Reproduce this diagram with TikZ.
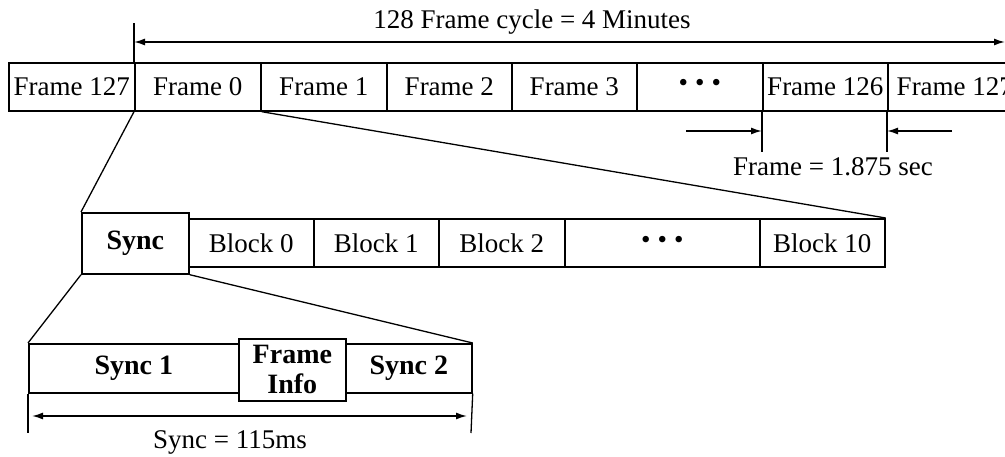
\documentclass[tikz,border=0pt]{standalone}
\usepackage{fontspec}
\setmainfont{Liberation Serif}
\usetikzlibrary{arrows.meta}
\begin{document}
\begin{tikzpicture}[x=1pt,y=-1pt,line width=1.7pt,
  every node/.style={font=\fontsize{27}{30}\selectfont,inner sep=0pt},
  cell/.style={draw,rectangle,anchor=north west,fill=white,line width=1.7pt},
  bcell/.style={cell,font=\fontsize{28}{30}\selectfont\bfseries},
  dimarr/.style={{Latex[length=11pt,width=7pt]}-{Latex[length=11pt,width=7pt]},line width=1.5pt},
  onearr/.style={-{Latex[length=11pt,width=7pt]},line width=1.5pt},
  thin/.style={line width=1.3pt},
  lbl/.style={anchor=center}]
\useasboundingbox (0,0) rectangle (1005,457);
% top row of frames
\node[cell,minimum width=126pt,minimum height=48pt] (f127a) at (8,62) {Frame 127};
\node[cell,minimum width=126pt,minimum height=48pt] (f0) at (134,62) {Frame 0};
\node[cell,minimum width=126pt,minimum height=48pt] (f1) at (260,62) {Frame 1};
\node[cell,minimum width=125pt,minimum height=48pt] (f2) at (386,62) {Frame 2};
\node[cell,minimum width=125pt,minimum height=48pt] (f3) at (511,62) {Frame 3};
\node[cell,minimum width=126pt,minimum height=48pt] (fdots) at (636,62) {\raisebox{2pt}{\textbullet\hspace{7pt}\textbullet\hspace{7pt}\textbullet}};
\node[cell,minimum width=125pt,minimum height=48pt] (f126) at (762,62) {Frame 126};
\node[cell,minimum width=134pt,minimum height=48pt] (f127b) at (887,62) {Frame 127};
% cycle dimension
\coordinate (ctop) at (134,23);
\coordinate (cl) at (134,42);
\coordinate (cr) at (1005,42);
\draw[thin] (f0.north west) -- (ctop);
\draw[dimarr] (cl) -- (cr);
\node[lbl] (cyc) at (532,22) {128 Frame cycle = 4 Minutes};
% frame duration
\coordinate (d1) at (762,152);
\coordinate (d2) at (887,152);
\coordinate (a1s) at (686,131);
\coordinate (a1e) at (762,131);
\coordinate (a2s) at (952,131);
\coordinate (a2e) at (887,131);
\draw[thin] (f126.south west) -- (d1);
\draw[thin] (f127b.south west) -- (d2);
\draw[onearr] (a1s) -- (a1e);
\draw[onearr] (a2s) -- (a2e);
\node[lbl] (fdur) at (833,167) {Frame = 1.875 sec};
% block row
\node[cell,minimum width=125pt,minimum height=48pt] (b0) at (188,218) {\raisebox{-4pt}{Block 0}};
\node[cell,minimum width=125pt,minimum height=48pt] (b1) at (313,218) {\raisebox{-3pt}{Block 1}};
\node[cell,minimum width=126pt,minimum height=48pt] (b2) at (438,218) {\raisebox{-3pt}{Block 2}};
\node[cell,minimum width=195pt,minimum height=48pt] (bdots) at (564,218) {\raisebox{1pt}{\textbullet\hspace{7pt}\textbullet\hspace{7pt}\textbullet}};
\node[cell,minimum width=125pt,minimum height=48pt] (b10) at (759,218) {\raisebox{-4pt}{Block 10}};
\node[bcell,minimum width=107pt,minimum height=61pt] (sync) at (81,212) {\raisebox{3pt}{Sync}};
% zoom lines frame 0 -> block row
\draw[thin] (f0.south west) -- (sync.north west);
\draw[thin] (f0.south east) -- (b10.north east);
% sync row
\node[bcell,minimum width=210pt,minimum height=49pt] (s1) at (28,343) {\raisebox{-4pt}{Sync 1}};
\node[bcell,minimum width=126pt,minimum height=49pt] (s2) at (345,343) {\raisebox{-4pt}{Sync 2}};
\node[bcell,minimum width=107pt,minimum height=62pt,align=center] (fi) at (238,338) {Frame\\Info};
% zoom lines sync -> sync row
\draw[thin] (sync.south west) -- (s1.north west);
\draw[thin] (sync.south east) -- (s2.north east);
% sync dimension
\coordinate (sd1) at (28,433);
\coordinate (sd2) at (471,433);
\coordinate (sal) at (28,416);
\coordinate (sar) at (471,416);
\draw[thin] (s1.south west) -- (sd1);
\draw[thin] (s2.south east) -- (sd2);
\draw[dimarr,shorten <=4pt,shorten >=4pt] (sal) -- (sar);
\node[lbl] (sdur) at (230,442) {Sync = 115ms};
\end{tikzpicture}
\end{document}
